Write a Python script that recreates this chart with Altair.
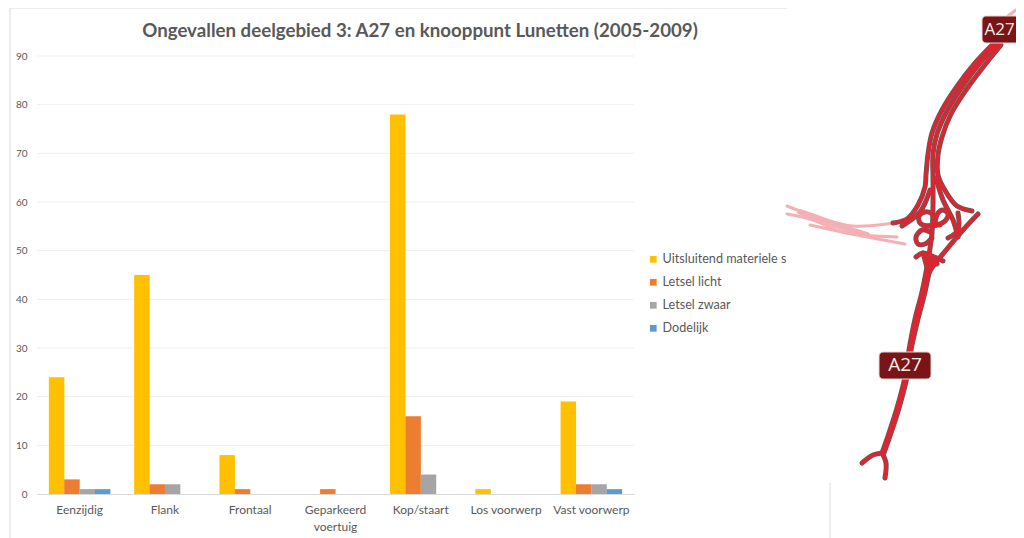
import altair as alt
import pandas as pd

categories = ["Eenzijdig", "Flank", "Frontaal", "Geparkeerd voertuig", "Kop/staart", "Los voorwerp", "Vast voorwerp"]
series_names = ["Uitsluitend materiele s", "Letsel licht", "Letsel zwaar", "Dodelijk"]
series_colors = ["#FFC000", "#ED7D31", "#A5A5A5", "#5B9BD5"]
materiele = [24, 45, 8, 0, 78, 1, 19]
licht = [3, 2, 1, 1, 16, 0, 2]
zwaar = [1, 2, 0, 0, 4, 0, 2]
dodelijk = [1, 0, 0, 0, 0, 0, 1]
chart_title = ["Ongevallen deelgebied 3: A27 en knooppunt Lunetten (2005-2009)"]
y_ticks = [0, 10, 20, 30, 40, 50, 60, 70, 80, 90]

road_main = [(998,43),(980,63),(962,87),(947,111),(937,134),(933,154),(933,178),(933,206),(932,233),(928,261),(922,292),(915,319),(909,350),(905,377),(897,408),(888,436),(882,453)]
road_south2 = [(931,262),(925,292),(918,319),(911,350),(907,377),(899,408),(890,436),(884,453)]
road_west = [(994,43),(976,62),(958,85),(942,110),(932,133),(928,154),(926,175),(925,187),(918,205),(907,219),(893,223)]
road_east = [(1001,45),(984,66),(966,90),(951,114),(942,137),(938,155),(938,175),(946,192),(957,206),(972,211)]
road_ramp_e = [(936,178),(943,200),(953,220),(958,237)]
road_ramp_w = [(930,190),(920,212),(902,226)]
road_diag = [(978,214),(963,230),(947,249),(930,271),(925,285)]
road_link = [(958,213),(958,230),(948,238)]
loop_nw = [(933,225),(927,226),(920,223),(919,216),(925,212),(932,214),(935,223),(940,225)]
loop_ne = [(935,223),(938,213),(943,210),(948,214),(945,221),(937,225),(927,226)]
loop_sw = [(930,232),(922,230),(916,237),(918,244),(925,244),(932,238)]
cross_a = [(916,257),(923,253),(932,256),(943,261)]
cross_b = [(923,253),(928,271)]
cross_c = [(937,264),(928,257)]
fork_a = [(882,453),(873,455),(862,463)]
fork_b = [(882,453),(886,463),(885,478)]
pink_a = [(787,206),(820,218),(853,226),(893,223)]
pink_b = [(787,214),(813,220),(843,232),(897,237)]
pink_c = [(810,225),(847,233),(905,244)]
pink_e = [(1008,16),(1016,10)]
pink_thick = [(800,212),(823,220),(845,228),(867,235)]

red_roads = [road_main, road_south2, road_west, road_east, road_ramp_e, road_ramp_w, road_diag, road_link,
             loop_nw, loop_ne, loop_sw, cross_a, cross_b, cross_c, fork_a, fork_b]
pink_roads = [pink_a, pink_b, pink_c, pink_e]

badge_x = [982, 879]
badge_x2 = [1024, 931]
badge_y = [16, 352]
badge_y2 = [43, 379]
badge_tx = [999.5, 905]
badge_ty = [30, 365]
badge_text = ["A27", "A27"]
badge_size = [17, 19]

FONT = "Lato"
TXT = "#595959"

rows = []
for s, vals in zip(series_names, [materiele, licht, zwaar, dodelijk]):
    for c, v in zip(categories, vals):
        if v > 0:
            rows.append({"cat": c, "serie": s, "v": v})
df = pd.DataFrame(rows)

def road_frame(roads):
    out = []
    for i, r in enumerate(roads):
        for j, (x, y) in enumerate(r):
            out.append({"road": i, "seq": j, "x": x, "y": y})
    return pd.DataFrame(out)

y_scale = alt.Scale(domain=[0, 90], nice=False)
y_axis = alt.Axis(values=y_ticks, labelFont=FONT, labelFontSize=10, labelColor=TXT, title=None,
                  ticks=False, domain=False, labelPadding=10, grid=False)

grid = alt.Chart(pd.DataFrame({"v": y_ticks[1:]})).mark_rule(color="#EFEFEF", strokeWidth=1).encode(
    x=alt.value(0), x2=alt.value(597), y=alt.Y("v:Q", scale=y_scale, axis=y_axis))

bars = alt.Chart(df).mark_bar(size=15.5).encode(
    x=alt.X("cat:N", sort=categories, title=None,
            scale=alt.Scale(paddingInner=0.28, paddingOuter=0.14, range=[0, 597]),
            axis=alt.Axis(labelAngle=0, labelFont=FONT, labelFontSize=12, labelColor=TXT,
                          ticks=False, domainColor="#D9D9D9", labelPadding=10, grid=False, labelLimit=200,
                          labelLineHeight=17,
                          labelExpr="datum.label == 'Geparkeerd voertuig' ? ['Geparkeerd','voertuig'] : datum.label")),
    xOffset=alt.XOffset("serie:N", sort=series_names, scale=alt.Scale(paddingInner=0, paddingOuter=0)),
    y=alt.Y("v:Q", scale=y_scale, axis=y_axis),
    color=alt.Color("serie:N", sort=series_names,
                    scale=alt.Scale(domain=series_names, range=series_colors),
                    legend=alt.Legend(title=None, orient="none", legendX=610, legendY=197, symbolType="square",
                                      symbolSize=45, symbolStrokeWidth=0, labelFont=FONT, labelFontSize=12.6,
                                      labelColor=TXT, rowPadding=10, labelOffset=3, labelLimit=200)),
)
bar_group = alt.layer(grid, bars)

one = pd.DataFrame({"t": chart_title})
frame_left = alt.Chart(one).mark_rule(color="#D9D9D9", strokeWidth=1).encode(
    x=alt.value(-27), y=alt.value(-48), y2=alt.value(486))
frame_top = alt.Chart(one).mark_rule(color="#D9D9D9", strokeWidth=1).encode(
    x=alt.value(-27), x2=alt.value(750), y=alt.value(-48))
title_mark = alt.Chart(one).mark_text(font=FONT, fontSize=18.7, fontWeight="bold", color=TXT, align="center",
                                      baseline="middle").encode(
    x=alt.value(383), y=alt.value(-25), text="t:N")

xs = alt.Scale(domain=[37, 1016], nice=False, zero=False)
ys = alt.Scale(domain=[494, 56], nice=False, zero=False)
X = alt.X("x:Q", scale=xs, axis=None)
Y = alt.Y("y:Q", scale=ys, axis=None)

red = road_frame(red_roads)
pink = road_frame(pink_roads)
pink2 = road_frame([pink_thick])

def lines(d, color, w):
    return alt.Chart(d).mark_line(color=color, strokeWidth=w, interpolate="catmull-rom", strokeCap="round").encode(
        x=X, y=Y, detail="road:N", order="seq:Q")

badges = pd.DataFrame({"x": badge_x, "x2": badge_x2, "y": badge_y, "y2": badge_y2,
                       "tx": badge_tx, "ty": badge_ty, "t": badge_text, "s": badge_size})
badge_rect = alt.Chart(badges).mark_rect(color="#7B1416", cornerRadius=4, stroke="#E8D5D5", strokeWidth=1).encode(
    x=X, x2="x2:Q", y=Y, y2="y2:Q")
badge_txt = alt.Chart(badges).mark_text(color="#F5ECEC", font="Open Sans").encode(
    x=alt.X("tx:Q", scale=xs, axis=None), y=alt.Y("ty:Q", scale=ys, axis=None), text="t:N",
    size=alt.Size("s:Q", scale=None, legend=None))

edge = pd.DataFrame({"x": [830], "y": [483], "y2": [538]})
edge_rule = alt.Chart(edge).mark_rule(color="#D9D9D9", strokeWidth=1).encode(x=X, y=Y, y2="y2:Q")

map_group = alt.layer(
    edge_rule,
    lines(pink, "#F4B0B5", 3),
    lines(pink2, "#F4B0B5", 6),
    lines(red, "#5E5E5E", 5),
    lines(red, "#D92630", 3.6),
    badge_rect, badge_txt,
)

chart = alt.layer(frame_left, frame_top, title_mark, bar_group, map_group).resolve_scale(
    x="independent", y="independent"
).properties(
    width=979, height=438,
    padding={"left": 29, "top": 48, "right": 0, "bottom": 44},
    autosize=alt.AutoSizeParams(type="none"),
).configure_view(stroke=None)

chart.save("out.html", embed_options={"renderer": "svg", "actions": False})
